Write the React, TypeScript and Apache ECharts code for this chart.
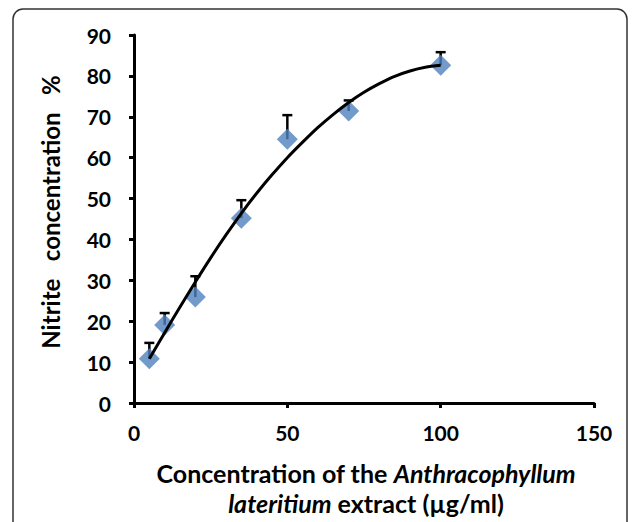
import React, { useEffect, useRef } from "react";
import * as echarts from "echarts";

const concentrations = [5, 10, 20, 35, 50, 70, 100];
const nitrite = [10.8, 19.1, 25.9, 45.2, 64.5, 71.4, 82.6];
const errorUp = [3.9, 2.9, 5.1, 4.4, 5.9, 2.6, 3.2];
const trendX = [5, 10, 15, 20, 25, 30, 35, 40, 45, 50, 55, 60, 65, 70, 75, 80, 85, 90, 95, 100];
const trendY = [10.8, 17.2, 23.5, 29.6, 35.5, 41.1, 46.4, 51.3, 55.8, 60, 63.8, 67.4, 70.6, 73.5, 76, 78.1, 79.9, 81.2, 82.1, 82.6];
const xTicks = [0, 50, 100, 150];
const yMax = 90;

const FONT = "Lato";

export default function App() {
  const ref = useRef<HTMLDivElement>(null);
  useEffect(() => {
    document.body.style.margin = "0";
    const chart = echarts.init(ref.current!, null, { renderer: "svg" });
    const points = concentrations.map((c, i) => [c, nitrite[i]]);
    const errData = concentrations.map((c, i) => [c, nitrite[i], nitrite[i] + errorUp[i]]);
    const trend = trendX.map((x, i) => [x, trendY[i]]);
    chart.setOption({
      animation: false,
      backgroundColor: "#fff",
      grid: { left: 134, right: 43, top: 35, bottom: 119 },
      xAxis: {
        type: "value",
        min: xTicks[0],
        max: xTicks[xTicks.length - 1],
        interval: 50,
        splitLine: { show: false },
        axisLine: { lineStyle: { color: "#000", width: 3 } },
        axisTick: { show: true, length: 5, lineStyle: { color: "#000", width: 3 } },
        axisLabel: { color: "#000", fontFamily: FONT, fontWeight: "bold", fontSize: 21, margin: 19 },
      },
      yAxis: {
        type: "value",
        min: 0,
        max: yMax,
        interval: 10,
        splitLine: { show: false },
        axisLine: { show: true, lineStyle: { color: "#000", width: 3 } },
        axisTick: { show: true, length: 5, lineStyle: { color: "#000", width: 3 } },
        axisLabel: { color: "#000", fontFamily: FONT, fontWeight: "bold", fontSize: 21, margin: 23 },
      },
      graphic: [
        {
          type: "rect",
          shape: { x: 13, y: 9, width: 614, height: 540, r: 10 },
          style: { fill: "none", stroke: "#333", lineWidth: 1.5 },
          silent: true,
        },
        {
          type: "text",
          x: 50,
          y: 212,
          rotation: Math.PI / 2,
          style: {
            text: "Nitrite   concentration   %",
            fontFamily: FONT,
            fontWeight: "bold",
            fontSize: 24,
            fill: "#000",
            align: "center",
            verticalAlign: "middle",
          },
        },
        {
          type: "text",
          x: 366,
          y: 488,
          style: {
            text: "{a|Concentration of the }{i|Anthracophyllum}\n{i|lateritium}{a| extract (µg/ml)}",
            align: "center",
            verticalAlign: "middle",
            fill: "#000",
            rich: {
              a: { fontFamily: FONT, fontWeight: "bold", fontSize: 25, lineHeight: 30, fill: "#000" },
              i: { fontFamily: FONT, fontWeight: "bold", fontStyle: "italic", fontSize: 25, lineHeight: 30, fill: "#000" },
            },
          },
        },
      ],
      series: [
        {
          type: "custom",
          z: 1,
          data: errData,
          renderItem: (params: any, api: any) => {
            const base = api.coord([api.value(0), api.value(1)]);
            const top = api.coord([api.value(0), api.value(2)]);
            const style = { stroke: "#000", lineWidth: 2.5 };
            return {
              type: "group",
              children: [
                { type: "line", shape: { x1: base[0], y1: base[1], x2: top[0], y2: top[1] }, style },
                { type: "line", shape: { x1: top[0] - 5, y1: top[1], x2: top[0] + 5, y2: top[1] }, style },
              ],
            };
          },
        },
        {
          type: "scatter",
          z: 2,
          data: points,
          symbol: "diamond",
          symbolSize: 21,
          itemStyle: { color: "#4F81BD" },
        },
        {
          type: "line",
          z: 3,
          data: trend,
          smooth: 0.3,
          showSymbol: false,
          symbol: "none",
          lineStyle: { color: "#000", width: 3 },
        },
      ],
    });
    return () => chart.dispose();
  }, []);
  return <div ref={ref} style={{ width: 637, height: 522 }} />;
}
